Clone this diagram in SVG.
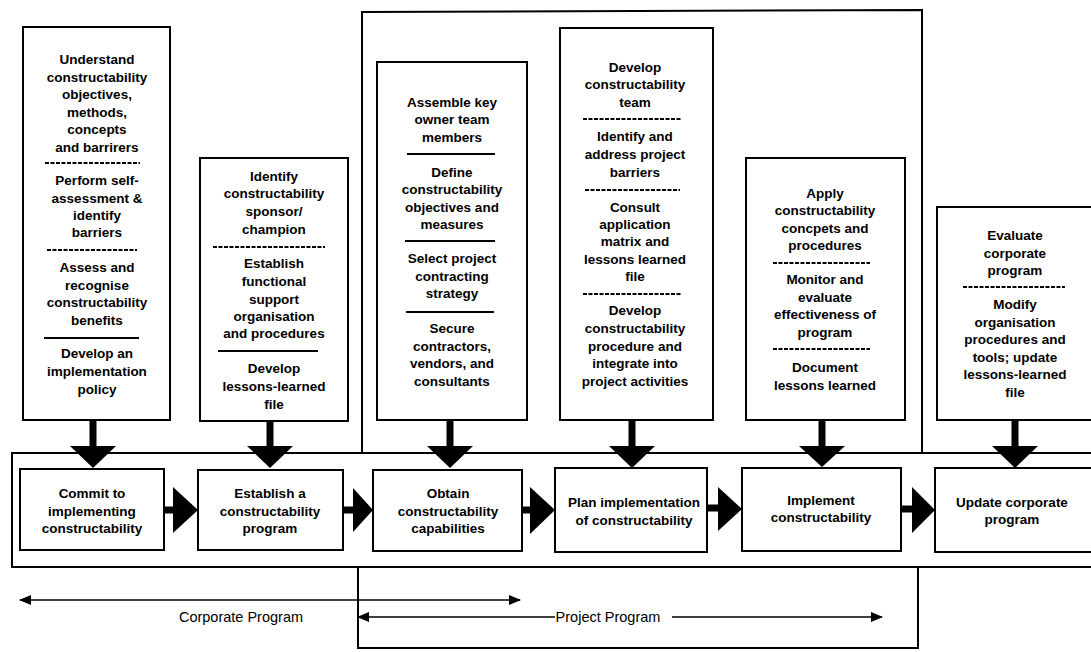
<svg xmlns="http://www.w3.org/2000/svg" width="1091" height="652" viewBox="0 0 1091 652">
<style>
  .box{fill:#fff;stroke:#000;stroke-width:2}
  .frame{fill:none;stroke:#000;stroke-width:2}
  .t{font-family:"Liberation Sans",Arial,sans-serif;font-weight:bold;font-size:13.5px;text-anchor:middle;fill:#000}
  .lbl{font-family:"Liberation Sans",Arial,sans-serif;font-size:14.5px;text-anchor:middle;fill:#000}
  .div{stroke:#000;stroke-width:2}
  .divd{stroke:#000;stroke-width:2;stroke-dasharray:4 1.5}
  .shaft{stroke:#000;stroke-width:7}
  .head{fill:#000}
  .thin{stroke:#000;stroke-width:1.5;fill:none}
</style>
<defs>
  <marker id="ah" viewBox="0 0 12 10" refX="11" refY="5" markerWidth="12" markerHeight="10" markerUnits="userSpaceOnUse" orient="auto-start-reverse">
    <path d="M0,0 L12,5 L0,10 Z" fill="#000"/>
  </marker>
</defs>
<rect width="1091" height="652" fill="#fff"/>

<!-- frames -->
<g id="frames">
  <rect class="frame" x="12" y="453" width="1090" height="114"/>
  <path class="frame" d="M362,453 L362,12 L922,10 L922,453"/>
  <path class="frame" d="M358,567 L358,648 L918,648 L918,567"/>
</g>

<!-- top boxes -->
<g id="top1">
  <rect class="box" x="23" y="27" width="147" height="393"/>
  <text class="t"><tspan x="97" y="64">Understand</tspan><tspan x="97" y="82">constructability</tspan><tspan x="97" y="99">objectives,</tspan><tspan x="97" y="117">methods,</tspan><tspan x="97" y="134">concepts</tspan><tspan x="97" y="152">and barrirers</tspan></text>
  <line class="divd" x1="45" y1="163" x2="140" y2="163"/>
  <text class="t"><tspan x="97" y="185">Perform self-</tspan><tspan x="97" y="203">assessment  &amp;</tspan><tspan x="97" y="220">identify</tspan><tspan x="97" y="237">barriers</tspan></text>
  <line class="divd" x1="47" y1="250" x2="137" y2="250"/>
  <text class="t"><tspan x="97" y="272">Assess and</tspan><tspan x="97" y="290">recognise</tspan><tspan x="97" y="307">constructability</tspan><tspan x="97" y="325">benefits</tspan></text>
  <line class="div" x1="44" y1="338" x2="139" y2="338"/>
  <text class="t"><tspan x="97" y="358">Develop an</tspan><tspan x="97" y="376">implementation</tspan><tspan x="97" y="394">policy</tspan></text>
</g>

<g id="top2">
  <rect class="box" x="200" y="158" width="148" height="263"/>
  <text class="t"><tspan x="274" y="181">Identify</tspan><tspan x="274" y="198">constructability</tspan><tspan x="274" y="216">sponsor/</tspan><tspan x="274" y="234">champion</tspan></text>
  <line class="divd" x1="213" y1="247" x2="325" y2="247"/>
  <text class="t"><tspan x="274" y="268">Establish</tspan><tspan x="274" y="286">functional</tspan><tspan x="274" y="304">support</tspan><tspan x="274" y="321">organisation</tspan><tspan x="274" y="338">and procedures</tspan></text>
  <line class="div" x1="218" y1="351" x2="318" y2="351"/>
  <text class="t"><tspan x="274" y="373">Develop</tspan><tspan x="274" y="391">lessons-learned</tspan><tspan x="274" y="409">file</tspan></text>
</g>

<g id="top3">
  <rect class="box" x="377" y="62" width="150" height="358"/>
  <text class="t"><tspan x="452" y="107">Assemble key</tspan><tspan x="452" y="124">owner team</tspan><tspan x="452" y="142">members</tspan></text>
  <line class="div" x1="407" y1="154" x2="495" y2="154"/>
  <text class="t"><tspan x="452" y="177">Define</tspan><tspan x="452" y="194">constructability</tspan><tspan x="452" y="212">objectives and</tspan><tspan x="452" y="229">measures</tspan></text>
  <line class="div" x1="405" y1="241" x2="495" y2="241"/>
  <text class="t"><tspan x="452" y="263">Select project</tspan><tspan x="452" y="281">contracting</tspan><tspan x="452" y="298">strategy</tspan></text>
  <line class="div" x1="406" y1="312" x2="494" y2="312"/>
  <text class="t"><tspan x="452" y="333">Secure</tspan><tspan x="452" y="351">contractors,</tspan><tspan x="452" y="368">vendors, and</tspan><tspan x="452" y="386">consultants</tspan></text>
</g>

<g id="top4">
  <rect class="box" x="560" y="28" width="153" height="392"/>
  <text class="t"><tspan x="635" y="72">Develop</tspan><tspan x="635" y="89">constructability</tspan><tspan x="635" y="107">team</tspan></text>
  <line class="divd" x1="583" y1="119" x2="682" y2="119"/>
  <text class="t"><tspan x="635" y="141">Identify and</tspan><tspan x="635" y="159">address project</tspan><tspan x="635" y="177">barriers</tspan></text>
  <line class="divd" x1="585" y1="190" x2="680" y2="190"/>
  <text class="t"><tspan x="635" y="212">Consult</tspan><tspan x="635" y="229">application</tspan><tspan x="635" y="246">matrix and</tspan><tspan x="635" y="264">lessons learned</tspan><tspan x="635" y="281">file</tspan></text>
  <line class="divd" x1="583" y1="294" x2="682" y2="294"/>
  <text class="t"><tspan x="635" y="315">Develop</tspan><tspan x="635" y="333">constructability</tspan><tspan x="635" y="351">procedure and</tspan><tspan x="635" y="368">integrate into</tspan><tspan x="635" y="386">project activities</tspan></text>
</g>

<g id="top5">
  <rect class="box" x="746" y="158" width="159" height="262"/>
  <text class="t"><tspan x="825" y="198">Apply</tspan><tspan x="825" y="215">constructability</tspan><tspan x="825" y="233">concpets and</tspan><tspan x="825" y="250">procedures</tspan></text>
  <line class="divd" x1="773" y1="263" x2="870" y2="263"/>
  <text class="t"><tspan x="825" y="284">Monitor and</tspan><tspan x="825" y="302">evaluate</tspan><tspan x="825" y="319">effectiveness of</tspan><tspan x="825" y="337">program</tspan></text>
  <line class="divd" x1="773" y1="349" x2="870" y2="349"/>
  <text class="t"><tspan x="825" y="372">Document</tspan><tspan x="825" y="390">lessons learned</tspan></text>
</g>

<g id="top6">
  <rect class="box" x="937" y="207" width="160" height="213"/>
  <text class="t"><tspan x="1015" y="240">Evaluate</tspan><tspan x="1015" y="258">corporate</tspan><tspan x="1015" y="275">program</tspan></text>
  <line class="divd" x1="963" y1="287" x2="1065" y2="287"/>
  <text class="t"><tspan x="1015" y="309">Modify</tspan><tspan x="1015" y="327">organisation</tspan><tspan x="1015" y="344">procedures and</tspan><tspan x="1015" y="362">tools; update</tspan><tspan x="1015" y="379">lessons-learned</tspan><tspan x="1015" y="397">file</tspan></text>
</g>

<!-- bottom process boxes -->
<g id="step1">
  <rect class="box" x="20" y="469" width="144" height="81"/>
  <text class="t"><tspan x="92" y="498">Commit to</tspan><tspan x="92" y="516">implementing</tspan><tspan x="92" y="533">constructability</tspan></text>
</g>
<g id="step2">
  <rect class="box" x="198" y="470" width="145" height="80"/>
  <text class="t"><tspan x="270" y="498">Establish a</tspan><tspan x="270" y="516">constructability</tspan><tspan x="270" y="533">program</tspan></text>
</g>
<g id="step3">
  <rect class="box" x="373" y="470" width="149" height="81"/>
  <text class="t"><tspan x="448" y="498">Obtain</tspan><tspan x="448" y="516">constructability</tspan><tspan x="448" y="533">capabilities</tspan></text>
</g>
<g id="step4">
  <rect class="box" x="555" y="468" width="152" height="84"/>
  <text class="t"><tspan x="634" y="507">Plan implementation</tspan><tspan x="634" y="525">of constructability</tspan></text>
</g>
<g id="step5">
  <rect class="box" x="742" y="468" width="159" height="83"/>
  <text class="t"><tspan x="821" y="505">Implement</tspan><tspan x="821" y="522">constructability</tspan></text>
</g>
<g id="step6">
  <rect class="box" x="935" y="468" width="160" height="84"/>
  <text class="t"><tspan x="1012" y="507">Update corporate</tspan><tspan x="1012" y="524">program</tspan></text>
</g>

<!-- connectors -->
<g id="connectors">
  <!-- down arrows -->
  <line class="shaft" x1="93" y1="420" x2="93" y2="448"/>
  <path class="head" d="M70,446 L116,446 L93,468 Z"/>
  <line class="shaft" x1="270" y1="421" x2="270" y2="448"/>
  <path class="head" d="M247,446 L293,446 L270,468 Z"/>
  <line class="shaft" x1="450" y1="420" x2="450" y2="448"/>
  <path class="head" d="M427,446 L473,446 L450,468 Z"/>
  <line class="shaft" x1="632" y1="420" x2="632" y2="448"/>
  <path class="head" d="M609,446 L655,446 L632,468 Z"/>
  <line class="shaft" x1="822" y1="420" x2="822" y2="448"/>
  <path class="head" d="M799,446 L845,446 L822,467 Z"/>
  <line class="shaft" x1="1015" y1="420" x2="1015" y2="448"/>
  <path class="head" d="M992,446 L1038,446 L1015,468 Z"/>
  <!-- horizontal arrows -->
  <line class="shaft" x1="164" y1="510" x2="175" y2="510"/>
  <path class="head" d="M173,487 L198,510 L173,533 Z"/>
  <line class="shaft" x1="343" y1="510" x2="355" y2="510"/>
  <path class="head" d="M353,488 L373,510 L353,532 Z"/>
  <line class="shaft" x1="522" y1="510" x2="532" y2="510"/>
  <path class="head" d="M530,487 L555,510 L530,534 Z"/>
  <line class="shaft" x1="707" y1="508" x2="720" y2="508"/>
  <path class="head" d="M718,487 L742,509 L718,531 Z"/>
  <line class="shaft" x1="901" y1="509" x2="914" y2="509"/>
  <path class="head" d="M912,487 L935,510 L912,533 Z"/>
  <!-- program span arrows -->
  <line class="thin" x1="20" y1="600" x2="520" y2="600" marker-start="url(#ah)" marker-end="url(#ah)"/>
  <line class="thin" x1="358" y1="617" x2="555" y2="617" marker-start="url(#ah)"/>
  <line class="thin" x1="672" y1="617" x2="882" y2="617" marker-end="url(#ah)"/>
</g>

<g id="labels">
  <text class="lbl" x="241" y="622">Corporate Program</text>
  <text class="lbl" x="608" y="622">Project Program</text>
</g>
</svg>
